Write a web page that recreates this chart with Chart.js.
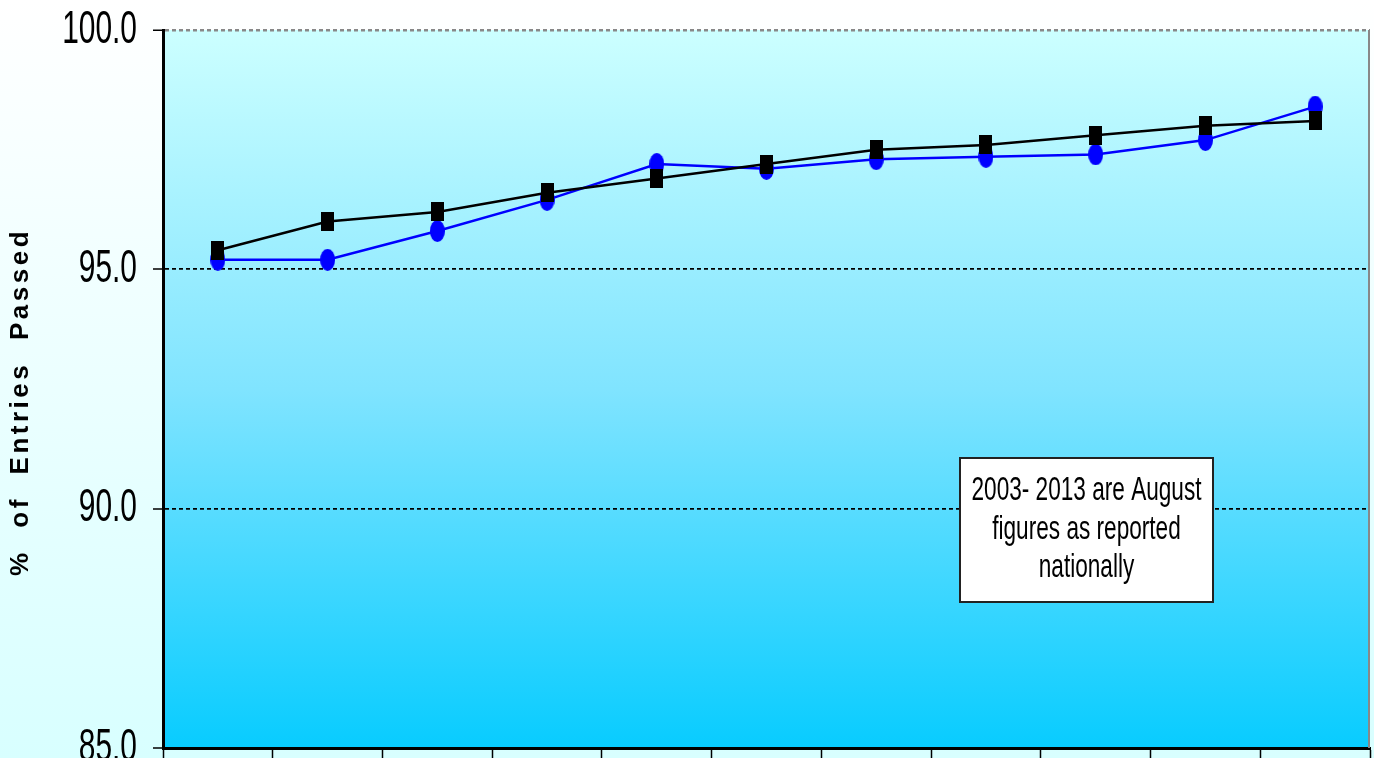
<!DOCTYPE html>
<html>
<head>
<meta charset="utf-8">
<script src="https://cdn.jsdelivr.net/npm/chart.js@4/dist/chart.umd.min.js"></script>
<style>
  html, body { margin: 0; padding: 0; overflow: hidden; background: #fff; }
  #wrap { width: 1374px; height: 790px; }
</style>
</head>
<body>
<div id="wrap"><canvas id="passChart" width="1374" height="790"></canvas></div>
<script>
// years on the x axis (labels themselves fall below the visible area)
var years = ['2003', '2004', '2005', '2006', '2007', '2008', '2009', '2010', '2011', '2012', '2013'];

// national figures (black squares)
var nationalPassed = [95.4, 96.0, 96.2, 96.6, 96.9, 97.2, 97.5, 97.6, 97.8, 98.0, 98.1];

// local figures (blue circles)
var localPassed = [95.2, 95.2, 95.8, 96.45, 97.2, 97.1, 97.3, 97.35, 97.4, 97.7, 98.4];

var yTicks = [85, 90, 95, 100];
var yTitle = '% of Entries Passed';
var noteLines = ['2003- 2013 are August', 'figures as reported', 'nationally'];

function makeMarker(w, h, color, round) {
  var c = document.createElement('canvas');
  c.width = w;
  c.height = h;
  var g = c.getContext('2d');
  g.fillStyle = color;
  if (round) {
    g.beginPath();
    g.ellipse(w / 2, h / 2, w / 2, h / 2, 0, 0, Math.PI * 2);
    g.fill();
  } else {
    g.fillRect(0, 0, w, h);
  }
  return c;
}

var squareMark = makeMarker(13, 19, '#000000', false);
var circleMark = makeMarker(15, 22, '#0000ff', true);

// backgrounds, frame, tick labels, axis title and the note box
var decor = {
  id: 'decor',
  beforeDraw: function (chart) {
    var ctx = chart.ctx;
    var a = chart.chartArea;
    ctx.save();
    var bg = ctx.createLinearGradient(0, 0, 0, 758);
    bg.addColorStop(0, '#ffffff');
    bg.addColorStop(1, '#d8ffff');
    ctx.fillStyle = bg;
    ctx.fillRect(0, 0, chart.width, chart.height);

    var pg = ctx.createLinearGradient(0, a.top, 0, a.bottom);
    pg.addColorStop(0, '#ccffff');
    pg.addColorStop(0.5, '#80e4ff');
    pg.addColorStop(1, '#08ccff');
    ctx.fillStyle = pg;
    ctx.fillRect(a.left, a.top, a.right - a.left, a.bottom - a.top);
    ctx.restore();
  },
  beforeDatasetsDraw: function (chart) {
    var ctx = chart.ctx;
    var a = chart.chartArea;
    ctx.save();
    ctx.strokeStyle = '#888888';
    ctx.lineWidth = 2;
    ctx.beginPath();
    ctx.moveTo(a.right - 1, a.top);
    ctx.lineTo(a.right - 1, a.bottom);
    ctx.stroke();
    ctx.restore();
  },
  afterDraw: function (chart) {
    var ctx = chart.ctx;
    var a = chart.chartArea;
    var ys = chart.scales.y;

    // y tick labels, condensed
    ctx.save();
    ctx.fillStyle = '#000';
    ctx.font = '46px "Liberation Sans", Arial, sans-serif';
    ctx.textAlign = 'right';
    ctx.textBaseline = 'middle';
    yTicks.forEach(function (v) {
      var py = ys.getPixelForValue(v);
      ctx.save();
      ctx.translate(a.left - 26, py);
      ctx.scale(0.65, 1);
      ctx.fillText(v.toFixed(1), 0, 0);
      ctx.restore();
    });
    ctx.restore();

    // y axis title
    ctx.save();
    ctx.fillStyle = '#000';
    ctx.font = 'bold 26px "Liberation Sans", Arial, sans-serif';
    ctx.letterSpacing = '3.5px';
    ctx.wordSpacing = '11px';
    ctx.textAlign = 'center';
    ctx.textBaseline = 'middle';
    ctx.translate(21, 404);
    ctx.rotate(-Math.PI / 2);
    ctx.fillText(yTitle, 2, 0);
    ctx.restore();

    // note box
    var bx = 960, by = 458, bw = 253, bh = 144;
    ctx.save();
    ctx.fillStyle = '#ffffff';
    ctx.fillRect(bx, by, bw, bh);
    ctx.strokeStyle = '#222';
    ctx.lineWidth = 2;
    ctx.strokeRect(bx, by, bw, bh);
    ctx.fillStyle = '#000';
    ctx.font = '34px "Liberation Sans", Arial, sans-serif';
    ctx.textAlign = 'center';
    ctx.textBaseline = 'middle';
    noteLines.forEach(function (t, i) {
      ctx.save();
      ctx.translate(bx + bw / 2, by + 33 + i * 38.5);
      ctx.scale(0.665, 1);
      ctx.fillText(t, 0, 0);
      ctx.restore();
    });
    ctx.restore();
  }
};

var ctx = document.getElementById('passChart').getContext('2d');

new Chart(ctx, {
  type: 'line',
  data: {
    labels: years,
    datasets: [
      {
        label: 'National',
        data: nationalPassed,
        borderColor: '#000000',
        borderWidth: 2.5,
        pointStyle: squareMark,
        pointRadius: 8,
        tension: 0,
        fill: false
      },
      {
        label: 'Local',
        data: localPassed,
        borderColor: '#0000ff',
        borderWidth: 2.5,
        pointStyle: circleMark,
        pointRadius: 8,
        tension: 0,
        fill: false
      }
    ]
  },
  options: {
    responsive: false,
    animation: false,
    layout: {
      autoPadding: false,
      padding: { top: 30, right: 4, bottom: 32, left: 0 }
    },
    scales: {
      x: {
        offset: true,
        ticks: { display: false },
        grid: {
          offset: true,
          drawOnChartArea: false,
          drawTicks: true,
          tickLength: 10,
          tickColor: '#000',
          tickWidth: 1.5
        },
        border: { display: true, color: '#000', width: 3 },
        afterFit: function (scale) { scale.height = 10; }
      },
      y: {
        min: 85,
        max: 100,
        ticks: { display: false, stepSize: 5 },
        grid: {
          color: function (c) {
            if (c.tick.value === 100) return '#888888';
            if (c.tick.value === 85) return 'rgba(0,0,0,0)';
            return '#000000';
          },
          lineWidth: function (c) { return c.tick.value === 100 ? 2.5 : 1.8; },
          drawTicks: true,
          tickLength: 10,
          tickColor: '#000',
          tickWidth: 1.5,
          tickBorderDash: [1, 0]
        },
        border: { display: true, color: '#000', width: 3, dash: [4, 3] },
        afterFit: function (scale) { scale.width = 163; }
      }
    },
    plugins: {
      legend: { display: false },
      tooltip: { enabled: false },
      title: { display: false }
    }
  },
  plugins: [decor]
});
</script>
</body>
</html>
